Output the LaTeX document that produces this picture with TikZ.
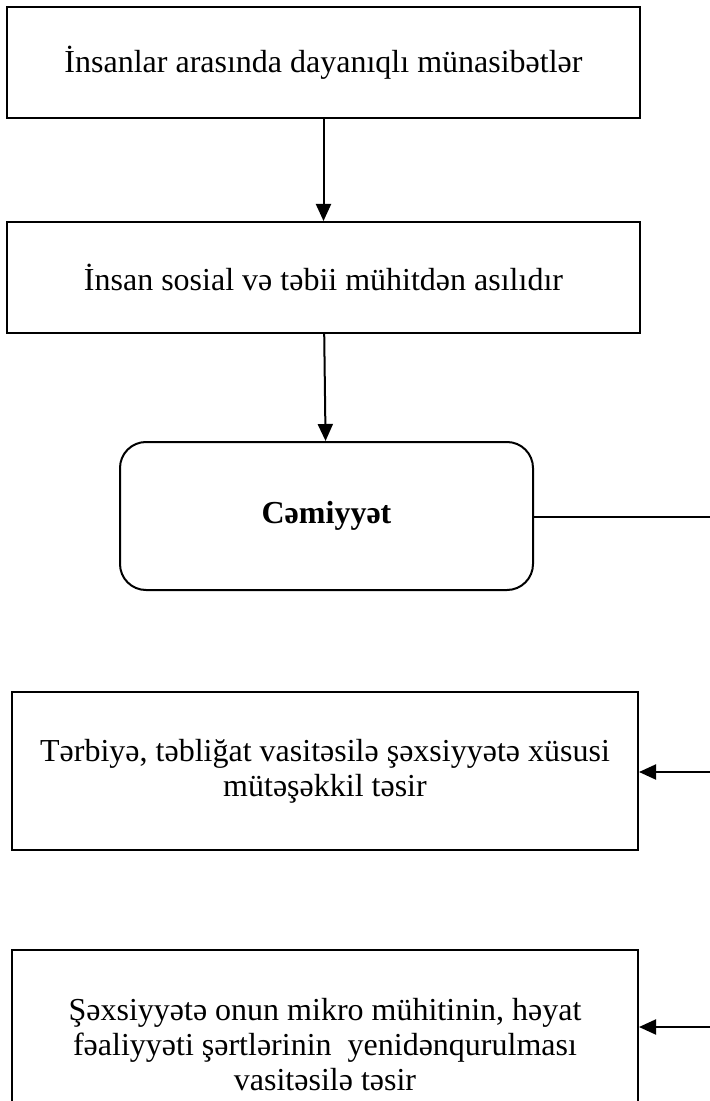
\documentclass[tikz,border=0pt]{standalone}
\usepackage{fontspec}
\setmainfont{Liberation Serif}
\usetikzlibrary{arrows.meta}

\begin{document}
\begin{tikzpicture}[
  x=0.5pt, y=-0.5pt,
  every node/.style={font=\fontsize{16}{17.5}\selectfont, align=center, inner sep=0pt},
  box/.style={draw, line width=1pt},
  arrow/.style={-{Triangle[length=8.5pt,width=7.5pt]}, line width=1pt}
]
  \useasboundingbox (0,0) rectangle (710,1101);
  \clip (0,0) rectangle (710,1101);
  \node[box, minimum width=316.5pt, minimum height=55.5pt]
        (rel) at (323.5, 62.5) {İnsanlar arasında dayanıqlı münasibətlər};
  \node[box, minimum width=316.5pt, minimum height=55.5pt]
        (dep) at (323.5, 277.5) {İnsan sosial və təbii mühitdən asılıdır};
  \node[box, rounded corners=13pt, minimum width=206.5pt, minimum height=74pt]
        (soc) at (326.5, 516) {\textbf{Cəmiyyət}};
  \node[box, minimum width=313pt, minimum height=79pt]
        (edu) at (325, 771) {Tərbiyə, təbliğat vasitəsilə şəxsiyyətə xüsusi\\ mütəşəkkil təsir};
  \node[box, minimum width=313pt, minimum height=95pt]
        (env) at (325, 1045) {Şəxsiyyətə onun mikro mühitinin, həyat\\ fəaliyyəti şərtlərinin~ yenidənqurulması\\ vasitəsilə təsir};
  \coordinate (out) at (710, 517);
  \coordinate (in1) at (710, 772);
  \coordinate (in2) at (710, 1027);
  \draw[arrow] (rel) -- (dep);
  \draw[arrow] (dep) -- (soc);
  \draw[line width=1pt] (soc.east |- out) -- (out);
  \draw[arrow] (in1) -- (in1 -| edu.east);
  \draw[arrow] (in2) -- (in2 -| env.east);
\end{tikzpicture}
\end{document}
